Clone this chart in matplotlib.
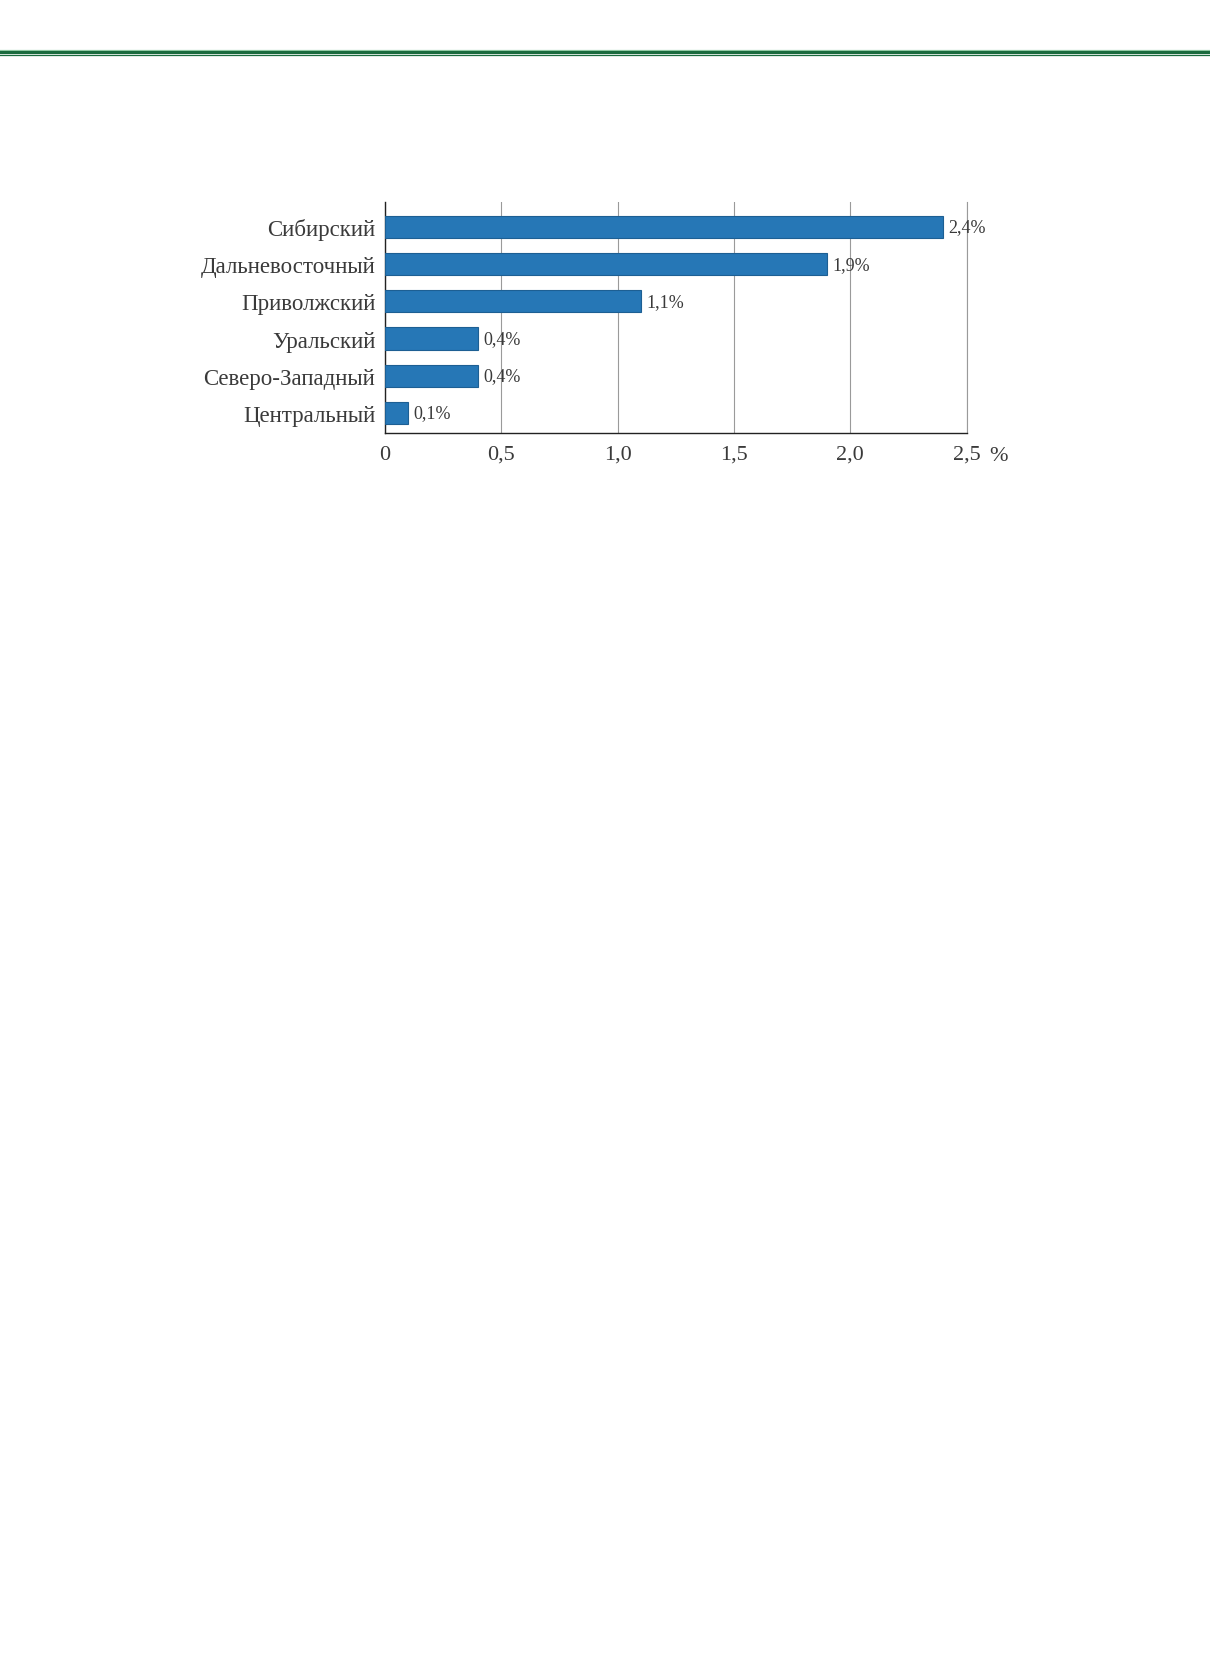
import matplotlib
matplotlib.use("Agg")
import matplotlib.pyplot as plt
from matplotlib.lines import Line2D

categories = ["Сибирский", "Дальневосточный", "Приволжский", "Уральский", "Северо-Западный", "Центральный"]
values = [2.4, 1.9, 1.1, 0.4, 0.4, 0.1]
value_labels = ["2,4%", "1,9%", "1,1%", "0,4%", "0,4%", "0,1%"]
xticks = [0, 0.5, 1.0, 1.5, 2.0, 2.5]
xtick_labels = ["0", "0,5", "1,0", "1,5", "2,0", "2,5"]

plt.rcParams['font.family'] = ['Liberation Serif', 'DejaVu Serif']
text_color = "#3a3a3a"
bar_color = "#2677b6"

fig = plt.figure(figsize=(12.1, 16.81), dpi=100)

# header green rules
fig.add_artist(Line2D([0, 1], [1 - 50.6 / 1681] * 2, color="#9fd4b0", linewidth=0.9))
fig.add_artist(Line2D([0, 1], [1 - 52.6 / 1681] * 2, color="#1b6b3e", linewidth=2.3))
fig.add_artist(Line2D([0, 1], [1 - 56.3 / 1681] * 2, color="#1b6b3e", linewidth=0.9))

ax = fig.add_axes([385 / 1210, 1 - 434 / 1681, (966.7 - 385) / 1210, (434 - 203) / 1681])

ypos = list(range(len(categories)))
ax.barh(ypos, values, height=0.6, color=bar_color, edgecolor="#1d5f93", linewidth=0.8, zorder=3)
for y, v, lab in zip(ypos, values, value_labels):
    ax.text(v + 0.022, y, lab, va="center", ha="left", fontsize=13, color=text_color, zorder=4)

ax.set_xlim(0, 2.5)
ax.set_ylim(len(categories) - 1 + 0.54, -0.67)
ax.set_yticks(ypos)
ax.set_yticklabels(categories, fontsize=16.5, color=text_color)
ax.set_xticks(xticks)
ax.set_xticklabels(xtick_labels, fontsize=16, color=text_color)
ax.tick_params(axis="both", length=0)
ax.tick_params(axis="y", pad=7)
ax.tick_params(axis="x", pad=8.5)

ax.grid(axis="x", color="#9a9a9a", linewidth=0.8, zorder=0)
ax.grid(axis="y", visible=False)
ax.axvline(xticks[-1], color="#9a9a9a", linewidth=0.8, zorder=0, clip_on=False)
for s in ["top", "right"]:
    ax.spines[s].set_visible(False)
ax.spines["left"].set_color("#222222")
ax.spines["bottom"].set_color("#222222")
ax.spines["left"].set_linewidth(1.0)
ax.spines["bottom"].set_linewidth(1.0)

ax.text(1.054, -0.097, "%", transform=ax.transAxes, fontsize=16, color=text_color,
        ha="center", va="center")

fig.savefig("out.png", dpi=100, facecolor="white")
